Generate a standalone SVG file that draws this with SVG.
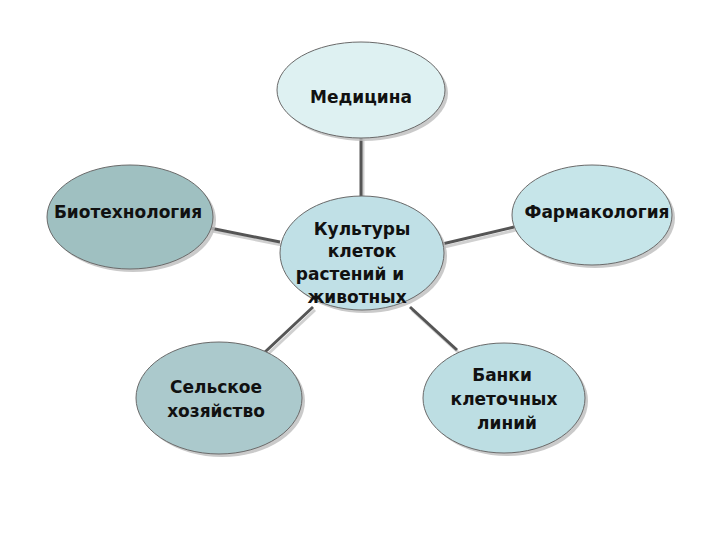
<svg xmlns="http://www.w3.org/2000/svg" width="720" height="540" viewBox="0 0 720 540">
<defs>
<style>
.shadow{fill:#bdbdbd;opacity:0.8}
.node{stroke:#6a6a6a;stroke-width:1}
.lbl{font-family:"DejaVu Sans","Liberation Sans",sans-serif;font-weight:bold;font-size:17px;fill:#111;text-anchor:middle}
.conn{stroke:#555;stroke-width:3;fill:none}
.connsh{stroke:#d0d0d0;stroke-width:3;fill:none}
</style>
</defs>
<rect width="720" height="540" fill="#fff"/>
<g id="connectors">
<line class="connsh" x1="363" y1="139" x2="363" y2="200"/>
<line class="connsh" x1="212" y1="231" x2="282" y2="245"/>
<line class="connsh" x1="440" y1="248" x2="516" y2="230"/>
<line class="connsh" x1="267" y1="355" x2="315" y2="310"/>
<line class="connsh" x1="412" y1="310" x2="459" y2="353"/>
<line class="conn" x1="361" y1="137" x2="361" y2="198"/>
<line class="conn" x1="210" y1="228" x2="280" y2="242"/>
<line class="conn" x1="438" y1="245" x2="514" y2="227"/>
<line class="conn" x1="265" y1="352" x2="313" y2="307"/>
<line class="conn" x1="410" y1="307" x2="457" y2="350"/>
</g>
<g id="node-medicina">
<ellipse class="shadow" cx="364" cy="93" rx="84" ry="48"/>
<ellipse class="node" cx="361" cy="90" rx="84" ry="48" fill="#def1f2"/>
<text class="lbl" x="361" y="103">Медицина</text>
</g>
<g id="node-biotech">
<ellipse class="shadow" cx="133" cy="220" rx="83" ry="52"/>
<ellipse class="node" cx="130" cy="217" rx="83" ry="52" fill="#9fc0c1"/>
<text class="lbl" x="128" y="218">Биотехнология</text>
</g>
<g id="node-center">
<ellipse class="shadow" cx="365" cy="256" rx="82" ry="57"/>
<ellipse class="node" cx="362" cy="253" rx="82" ry="57" fill="#c0e0e6"/>
<text class="lbl" x="362" y="235">Культуры</text>
<text class="lbl" x="362" y="257">клеток</text>
<text class="lbl" x="350" y="280">растений и</text>
<text class="lbl" x="357" y="303">животных</text>
</g>
<g id="node-pharma">
<ellipse class="shadow" cx="595" cy="218" rx="80" ry="50"/>
<ellipse class="node" cx="592" cy="215" rx="80" ry="50" fill="#c6e5e9"/>
<text class="lbl" x="597" y="218">Фармакология</text>
</g>
<g id="node-agri">
<ellipse class="shadow" cx="222" cy="401" rx="83" ry="56"/>
<ellipse class="node" cx="219" cy="398" rx="83" ry="56" fill="#abc9cc"/>
<text class="lbl" x="216" y="393">Сельское</text>
<text class="lbl" x="216" y="417">хозяйство</text>
</g>
<g id="node-banks">
<ellipse class="shadow" cx="507" cy="401" rx="81" ry="55"/>
<ellipse class="node" cx="504" cy="398" rx="81" ry="55" fill="#bddee3"/>
<text class="lbl" x="502" y="381">Банки</text>
<text class="lbl" x="504" y="405">клеточных</text>
<text class="lbl" x="507" y="429">линий</text>
</g>
</svg>
